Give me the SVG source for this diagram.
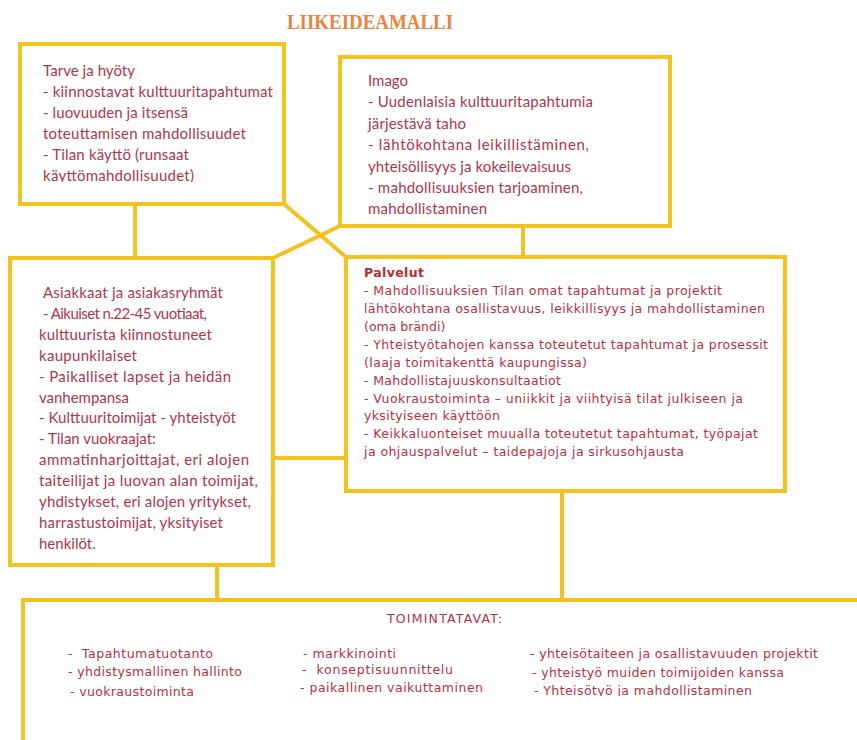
<svg xmlns="http://www.w3.org/2000/svg" width="857" height="740" viewBox="0 0 857 740">
<style>
.box{fill:#fff;stroke:#F2C31E;stroke-width:4}
.ln{fill:none;stroke:#F2C31E;stroke-width:4;stroke-linejoin:round}
.t{font-family:Lato,"Liberation Sans",sans-serif;font-size:15px;fill:#B0354A}
.v{font-family:"DejaVu Sans",Verdana,sans-serif;font-size:12.5px;fill:#B8303F}
.title{font-family:"Liberation Serif",serif;font-weight:bold;font-size:20px;fill:#E8843C}
</style>
<defs>
<clipPath id="c1"><rect x="0" y="0" width="857" height="182"/></clipPath>
<clipPath id="c2"><rect x="0" y="0" width="857" height="696"/></clipPath>
</defs>
<rect width="857" height="740" fill="#fff"/>
<text class="title" x="287" y="29" textLength="166" lengthAdjust="spacingAndGlyphs">LIIKEIDEAMALLI</text>

<g id="connectors">
<path class="ln" d="M135,204 V258"/>
<path class="ln" d="M284,204 L346,257"/>
<path class="ln" d="M340,226 L273,258"/>
<path class="ln" d="M523,226 V257"/>
<path class="ln" d="M273,458 H346"/>
<path class="ln" d="M217,565 V600"/>
<path class="ln" d="M562,491 V600"/>
</g>

<g id="tarve">
<rect class="box" x="20" y="44" width="264" height="160"/>
<text class="t" x="43" y="76" textLength="92">Tarve ja hyöty</text>
<text class="t" x="43" y="97" textLength="230">- kiinnostavat kulttuuritapahtumat</text>
<text class="t" x="43" y="118" textLength="145">- luovuuden ja itsensä</text>
<text class="t" x="43" y="139" textLength="203">toteuttamisen mahdollisuudet</text>
<text class="t" x="43" y="160" textLength="146">- Tilan käyttö (runsaat</text>
<text class="t" x="43" y="181" textLength="151" clip-path="url(#c1)">käyttömahdollisuudet)</text>
</g>

<g id="imago">
<rect class="box" x="340" y="57" width="330" height="169"/>
<text class="t" x="368" y="86" textLength="40">Imago</text>
<text class="t" x="368" y="107.4" textLength="225">- Uudenlaisia kulttuuritapahtumia</text>
<text class="t" x="368" y="128.8" textLength="98">järjestävä taho</text>
<text class="t" x="368" y="150.2" textLength="221">- lähtökohtana leikillistäminen,</text>
<text class="t" x="368" y="171.6" textLength="203">yhteisöllisyys ja kokeilevaisuus</text>
<text class="t" x="368" y="193" textLength="215">- mahdollisuuksien tarjoaminen,</text>
<text class="t" x="368" y="214.4" textLength="119">mahdollistaminen</text>
</g>

<g id="asiakkaat">
<rect class="box" x="10" y="258" width="263" height="307"/>
<text class="t" x="43" y="298" textLength="180">Asiakkaat ja asiakasryhmät</text>
<text class="t" x="43" y="318.9" textLength="164">- Aikuiset n.22-45 vuotiaat,</text>
<text class="t" x="39" y="339.8" textLength="173">kulttuurista kiinnostuneet</text>
<text class="t" x="39" y="360.7" textLength="98">kaupunkilaiset</text>
<text class="t" x="39" y="381.6" textLength="192">- Paikalliset lapset ja heidän</text>
<text class="t" x="39" y="402.5" textLength="90">vanhempansa</text>
<text class="t" x="39" y="423.4" textLength="197">- Kulttuuritoimijat - yhteistyöt</text>
<text class="t" x="39" y="444.3">- Tilan vuokraajat:</text>
<text class="t" x="39" y="465.2" textLength="210">ammatinharjoittajat, eri alojen</text>
<text class="t" x="39" y="486.1" textLength="219">taiteilijat ja luovan alan toimijat,</text>
<text class="t" x="39" y="507" textLength="212">yhdistykset, eri alojen yritykset,</text>
<text class="t" x="39" y="527.9" textLength="184">harrastustoimijat, yksityiset</text>
<text class="t" x="39" y="548.8">henkilöt.</text>
</g>

<g id="palvelut">
<rect class="box" x="346" y="257" width="439" height="234"/>
<text class="v" x="364" y="277" textLength="60" style="font-weight:bold;fill:#C0282F">Palvelut</text>
<text class="v" x="364" y="295" textLength="358">- Mahdollisuuksien Tilan omat tapahtumat ja projektit</text>
<text class="v" x="364" y="313" textLength="401">lähtökohtana osallistavuus, leikkillisyys ja mahdollistaminen</text>
<text class="v" x="364" y="331">(oma brändi)</text>
<text class="v" x="364" y="349" textLength="404">- Yhteistyötahojen kanssa toteutetut tapahtumat ja prosessit</text>
<text class="v" x="364" y="367" textLength="223">(laaja toimitakenttä kaupungissa)</text>
<text class="v" x="364" y="385" textLength="197">- Mahdollistajuuskonsultaatiot</text>
<text class="v" x="364" y="403" textLength="379">- Vuokraustoiminta – uniikkit ja viihtyisä tilat julkiseen ja</text>
<text class="v" x="364" y="420" textLength="136">yksityiseen käyttöön</text>
<text class="v" x="364" y="438" textLength="394">- Keikkaluonteiset muualla toteutetut tapahtumat, työpajat</text>
<text class="v" x="364" y="456" textLength="320">ja ohjauspalvelut – taidepajoja ja sirkusohjausta</text>
</g>

<g id="toimintatavat">
<rect class="box" x="23" y="600" width="900" height="200"/>
<text class="v" x="387" y="623" textLength="115">TOIMINTATAVAT:</text>
<text class="v" x="68" y="658" textLength="145" xml:space="preserve">-  Tapahtumatuotanto</text>
<text class="v" x="68" y="676" textLength="174">- yhdistysmallinen hallinto</text>
<text class="v" x="70" y="696" textLength="124">- vuokraustoiminta</text>
<text class="v" x="303" y="658" textLength="93">- markkinointi</text>
<text class="v" x="302" y="674" textLength="151" xml:space="preserve">-  konseptisuunnittelu</text>
<text class="v" x="300" y="692" textLength="183">- paikallinen vaikuttaminen</text>
<text class="v" x="530" y="658" textLength="288">- yhteisötaiteen ja osallistavuuden projektit</text>
<text class="v" x="532" y="677" textLength="252">- yhteistyö muiden toimijoiden kanssa</text>
<text class="v" x="534" y="695" textLength="218" clip-path="url(#c2)">- Yhteisötyö ja mahdollistaminen</text>
</g>
</svg>
